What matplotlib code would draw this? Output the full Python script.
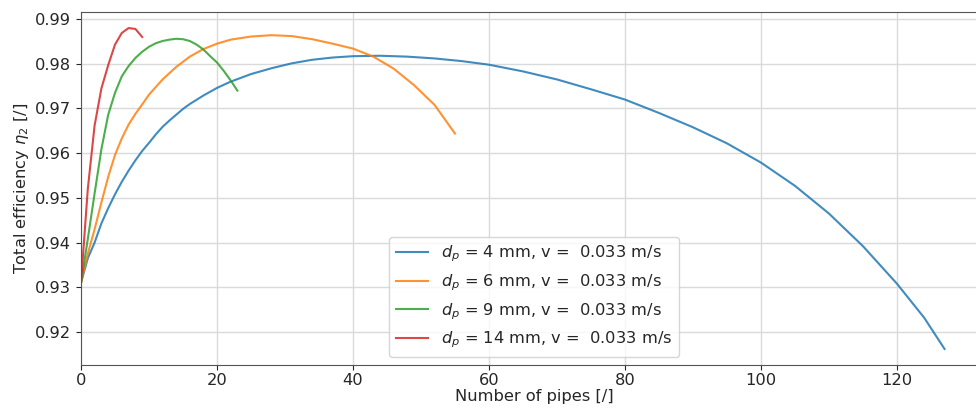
import numpy as np
import matplotlib
matplotlib.use('Agg')
import matplotlib.pyplot as plt

# Valori (numero di tubi, rendimento totale)
x_4 = [0, 1, 2, 3, 4, 5, 6, 7, 8, 9, 10, 11, 12, 13, 14, 15, 16, 18, 20, 22, 25,
       28, 31, 34, 37, 40, 44, 48, 52, 56, 60, 65, 70, 75, 80, 85, 90, 95, 100,
       105, 110, 115, 120, 124, 127]
eta_4 = [0.931, 0.9365, 0.9400, 0.9443, 0.9477, 0.9508, 0.9536, 0.9561, 0.9584,
         0.9605, 0.9623, 0.9642, 0.9659, 0.9673, 0.9686, 0.9699, 0.9710, 0.9729,
         0.9746, 0.9760, 0.9777, 0.9790, 0.9801, 0.9809, 0.9814, 0.9817, 0.9818,
         0.9816, 0.9812, 0.9806, 0.9798, 0.9783, 0.9765, 0.9743, 0.9720, 0.9690,
         0.9658, 0.9622, 0.9579, 0.9527, 0.9465, 0.9392, 0.9308, 0.9232, 0.9162]

x_6 = [0, 1, 2, 3, 4, 5, 6, 7, 8, 9, 10, 12, 14, 16, 18, 20, 22, 25, 28, 31, 34,
       37, 40, 43, 46, 49, 52, 55]
eta_6 = [0.931, 0.9375, 0.9430, 0.9490, 0.9547, 0.9596, 0.9633, 0.9664, 0.9688,
         0.9709, 0.9731, 0.9765, 0.9793, 0.9816, 0.9833, 0.9845, 0.9854, 0.9861,
         0.9864, 0.9862, 0.9855, 0.9845, 0.9834, 0.9816, 0.9789, 0.9752, 0.9708,
         0.9644]

x_9 = list(range(0, 24))
eta_9 = [0.931, 0.9408, 0.9510, 0.9609, 0.9686, 0.9735, 0.9772, 0.9795, 0.9813,
         0.9827, 0.9838, 0.9846, 0.9851, 0.9854, 0.9856, 0.9855, 0.9851, 0.9843,
         0.9832, 0.9817, 0.9803, 0.9784, 0.9763, 0.9740]

x_14 = list(range(0, 10))
eta_14 = [0.931, 0.9520, 0.9662, 0.9745, 0.9797, 0.9843, 0.9869, 0.9880, 0.9878,
          0.9860]

diametri = [4, 6, 9, 14]
velocita = 0.033

plt.rcParams['font.size'] = 11.7
plt.rcParams['text.color'] = '#262626'
plt.rcParams['axes.labelcolor'] = '#262626'
plt.rcParams['xtick.color'] = '#262626'
plt.rcParams['ytick.color'] = '#262626'

fig = plt.figure(figsize=(9.76, 4.08), dpi=100)
ax = fig.add_axes([0.083, 0.1054, 0.929, 0.8652])

serie = [(x_4, eta_4), (x_6, eta_6), (x_9, eta_9), (x_14, eta_14)]
for (xs, ys), d in zip(serie, diametri):
    ax.plot(xs, ys, lw=1.5, alpha=0.85,
            label=f'$d_p$ = {d} mm, v =  {velocita} m/s')

ax.set_xlim(0, None)
ax.set_xlabel('Number of pipes [/]', labelpad=1)
ax.set_ylabel(r'Total efficiency $\eta_2$ [/]', labelpad=3)
ax.tick_params(axis='x', pad=2)
ax.grid(True, color='#dadada', lw=1)
for s in ax.spines.values():
    s.set_color('#555555')
ax.legend(loc='lower center', fontsize=11.7)

fig.savefig('out.png', dpi=100)
